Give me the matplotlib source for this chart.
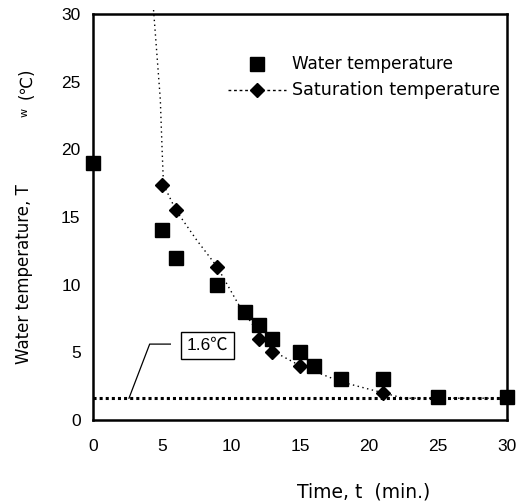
import numpy as np
import matplotlib.pyplot as plt

# measured water temperature
water_t = [0, 5, 6, 9, 11, 12, 13, 15, 16, 18, 21, 25, 30]
water_v = [19, 14, 12, 10, 8, 7, 6, 5, 4, 3, 3, 1.7, 1.7]

# saturation temperature (markers)
sat_t = [5, 6, 9, 12, 13, 15, 21]
sat_v = [17.4, 15.5, 11.3, 6, 5, 4, 2]

# dotted saturation curve
curve_t = [4.38, 4.5, 4.7, 4.87, 5.0, 5.1, 6, 7.5, 9, 10.5, 12, 13, 15, 18, 21, 22.5, 30]
curve_v = [30.3, 28.7, 26, 23.7, 20, 17.4, 15.5, 13.3, 11.3, 8.6, 6.4, 5.1, 4.0, 2.8, 2.0, 1.6, 1.6]

LIMIT_T = 1.6

TICK_FONT = ["Liberation Sans", "Noto Sans CJK KR", "DejaVu Sans"]
TEXT_FONT = ["DejaVu Sans", "Noto Sans CJK KR"]
plt.rcParams["font.family"] = TICK_FONT

fig = plt.figure(figsize=(5.26, 5.04), dpi=100)
ax = fig.add_axes([0.177, 0.167, 0.787, 0.805])

ax.axhline(LIMIT_T, color="black", linestyle=(0, (1, 1)), linewidth=2.2, zorder=1)
ax.plot(curve_t, curve_v, color="black", linestyle=(0, (1, 2.5)), linewidth=1.0, zorder=2,
        clip_on=False)
ax.plot(sat_t, sat_v, linestyle="none", marker="D", markersize=7.5, color="black", zorder=3)
ax.plot(water_t, water_v, linestyle="none", marker="s", markersize=10, color="black",
        zorder=4, clip_on=False)

# 1.6℃ label with leader line
ax.plot([2.6, 4.1, 5.6], [1.6, 5.6, 5.6], color="black", linewidth=0.9, zorder=2)
ax.text(8.3, 5.5, "1.6℃", fontsize=12.5, ha="center", va="center",
        bbox=dict(boxstyle="square,pad=0.32", facecolor="white", edgecolor="black", linewidth=1.0))

# legend drawn by hand
ax.plot([11.9], [26.3], marker="s", markersize=9.5, color="black", linestyle="none")
ax.text(14.45, 26.3, "Water temperature", fontsize=12.2, va="center", family=TEXT_FONT)
ax.plot([9.8, 14.0], [24.4, 24.4], color="black", linestyle=(0, (2, 2)), linewidth=1.0)
ax.plot([11.9], [24.4], marker="D", markersize=7.5, color="black", linestyle="none")
ax.text(14.45, 24.4, "Saturation temperature", fontsize=12.6, va="center", family=TEXT_FONT)

ax.set_xlim(0, 30)
ax.set_ylim(0, 30)
ax.set_xticks(np.arange(0, 31, 5))
ax.set_yticks(np.arange(0, 31, 5))
ax.tick_params(length=0, labelsize=12.5)
ax.tick_params(axis="x", pad=14)
ax.tick_params(axis="y", pad=9)
for s in ax.spines.values():
    s.set_linewidth(1.8)

# axis titles placed by hand (y title has a small separated subscript)
fig.text(0.692, 0.024, "Time, t  (min.)", fontsize=13.5, ha="center", va="center",
         family=TEXT_FONT)
fig.text(0.046, 0.457, "Water temperature, T", fontsize=12, rotation=90,
         ha="center", va="center", family=TEXT_FONT)
fig.text(0.046, 0.776, "w", fontsize=8, rotation=90, ha="center", va="center",
         family=TEXT_FONT)
fig.text(0.050, 0.835, "(℃)", fontsize=12, rotation=90, ha="center", va="center",
         family=TEXT_FONT)

fig.savefig("out.png", dpi=100)
